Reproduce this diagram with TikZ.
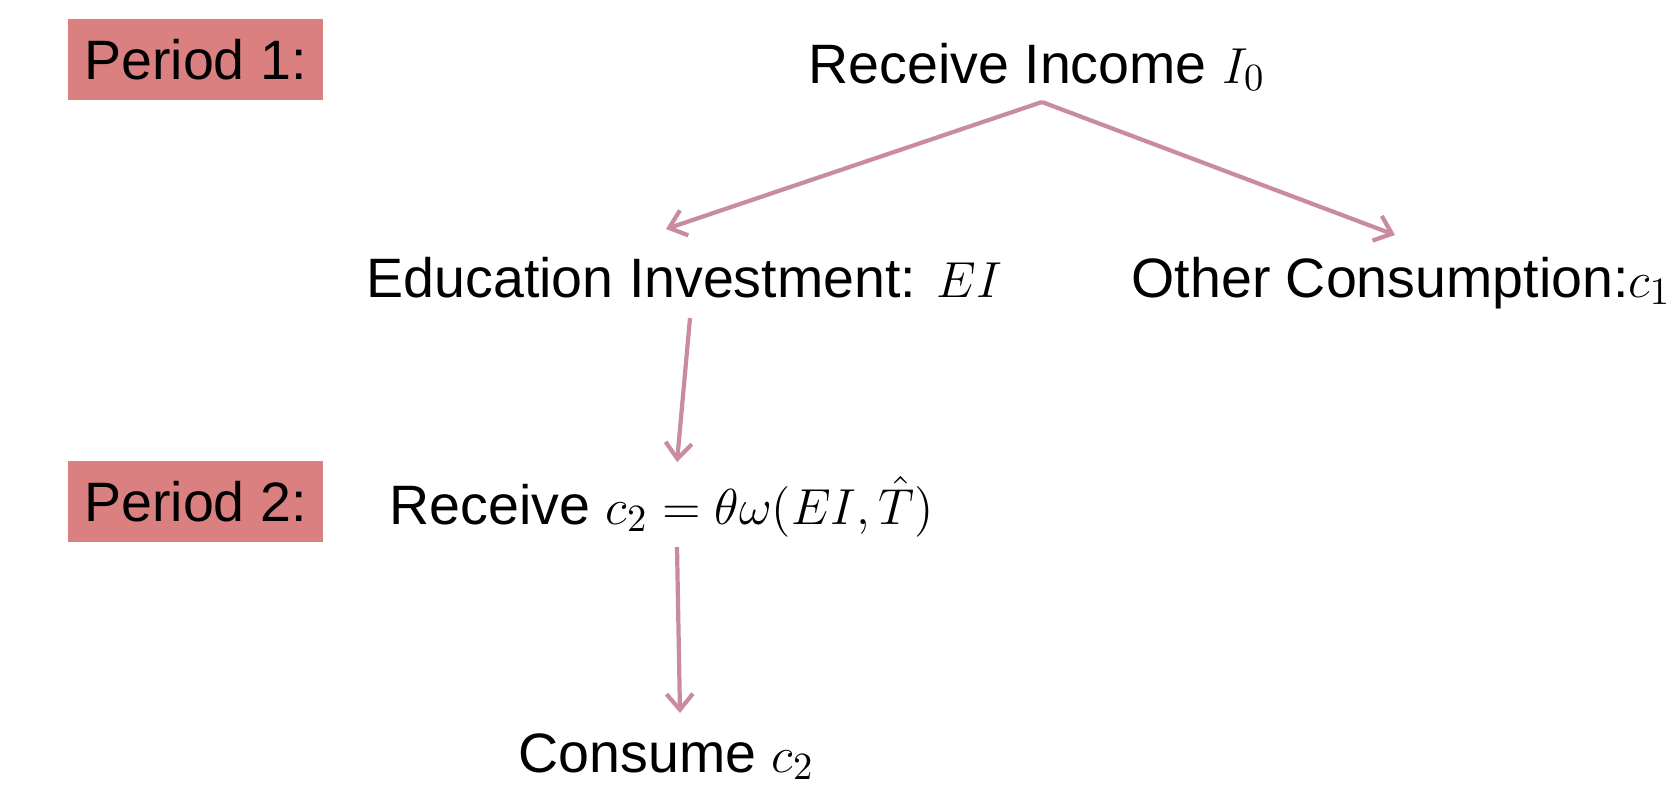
\documentclass[tikz,border=0pt]{standalone}
\usepackage{fontspec}
\setmainfont{Liberation Sans}
\usetikzlibrary{arrows.meta}

\begin{document}
\begin{tikzpicture}[x=0.1mm, y=-0.1mm,
  txt/.style={inner sep=0pt, anchor=base west, font=\fontsize{15.8}{19}\selectfont},
  periodbox/.style={fill=boxRed, inner sep=0pt, minimum width=25.5mm, minimum height=8.1mm,
    font=\fontsize{15.8}{19}\selectfont},
  flow/.style={draw=arrowPink, line width=1.2pt, -{Straight Barb[length=4.5pt,width=7.5pt]}}]

% Colori
\definecolor{boxRed}{HTML}{DA8080}
\definecolor{arrowPink}{HTML}{C98B9E}

% Cornice
\useasboundingbox (0,0) rectangle (1676,793);

% Etichette dei periodi
\node[periodbox] (per1) at (195.5,59.5) {Period 1:};
\node[periodbox] (per2) at (195.5,501.5) {Period 2:};

% Testi
\node[txt] (income) at (808,83) {Receive Income $I_0$};
\node[txt] (edu) at (366,297) {Education Investment: $EI$};
\node[txt] (other) at (1131,297) {Other Consumption:$c_1$};
\node[txt] (recv) at (389,524) {Receive $c_2=\theta\omega(EI,\hat{T})$};
\node[txt] (cons) at (518,772) {Consume $c_2$};

% Estremi delle frecce
\coordinate (apex) at (1042,102);
\coordinate (eiTip) at (666,229);
\coordinate (cTip) at (1395,235);
\coordinate (eiFoot) at (690,318);
\coordinate (recvTip) at (677,462);
\coordinate (recvFoot) at (677,547);
\coordinate (consTip) at (680,713);

% Frecce
\draw[flow] (apex) -- (eiTip);
\draw[flow] (apex) -- (cTip);
\draw[flow] (eiFoot) -- (recvTip);
\draw[flow] (recvFoot) -- (consTip);

\end{tikzpicture}
\end{document}
